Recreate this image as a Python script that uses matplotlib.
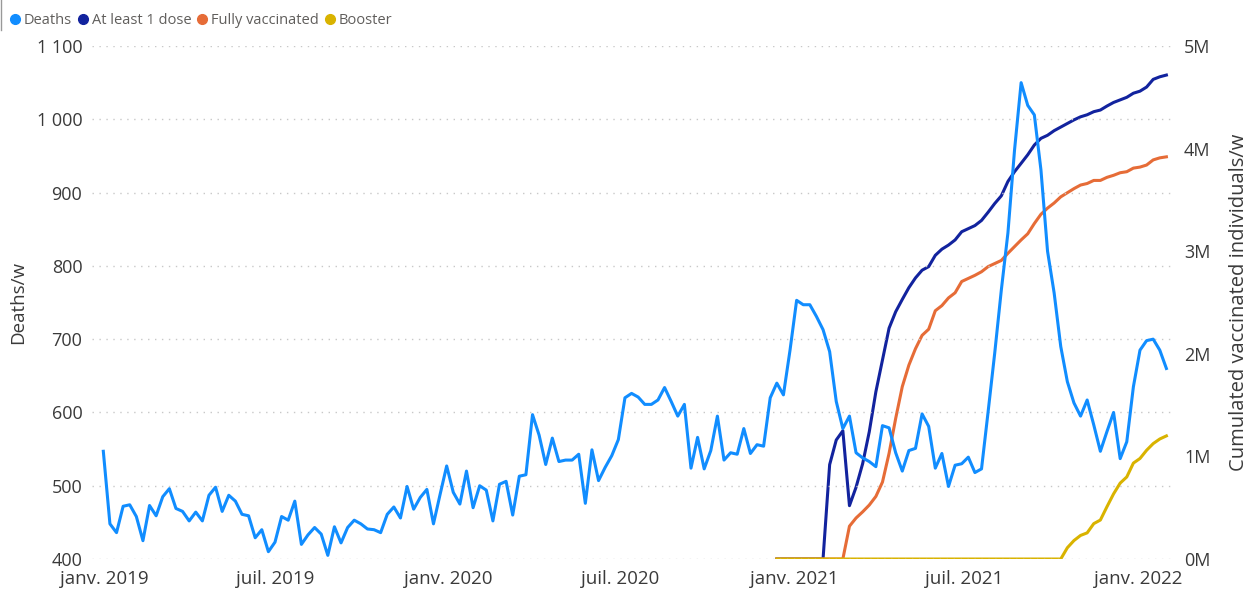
import pandas as pd
import matplotlib
matplotlib.use('Agg')
import matplotlib.pyplot as plt
import matplotlib.ticker as mticker
from matplotlib.lines import Line2D

plt.rcParams['font.family'] = ['Open Sans', 'DejaVu Sans']

# weekly data, first week starting 31 Dec 2018
weeks = pd.date_range('2018-12-31', periods=162, freq='7D')

deaths = [
    547, 448, 436, 472, 474, 458, 425, 473, 459, 485,
    496, 469, 465, 452, 464, 452, 487, 498, 465, 487,
    479, 461, 459, 429, 440, 410, 423, 458, 453, 479,
    420, 433, 443, 434, 405, 444, 422, 443, 453, 448,
    441, 440, 436, 461, 471, 456, 499, 468, 484, 495,
    448, 488, 527, 491, 475, 520, 470, 500, 494, 452,
    502, 506, 460, 513, 515, 597, 569, 529, 565, 533,
    535, 535, 543, 476, 549, 507, 525, 541, 563, 620,
    626, 621, 611, 611, 617, 634, 615, 595, 611, 524,
    566, 523, 548, 595, 535, 545, 543, 578, 544, 556,
    554, 620, 640, 624, 685, 753, 747, 747, 731, 713,
    683, 615, 578, 595, 545, 538, 533, 526, 582, 579,
    545, 520, 548, 551, 598, 581, 524, 544, 499, 528,
    530, 539, 518, 523, 601, 681, 767, 845, 958, 1050,
    1019, 1006, 931, 820, 763, 690, 642, 613, 595, 617,
    583, 547, 574, 600, 537, 560, 635, 685, 698, 700,
    685, 660,
]

# vaccination series (millions), from week 102 on
vax_weeks = weeks[102:]
at_least_1_dose = [0.0] * 8 + [
    0.92, 1.16, 1.25, 0.52, 0.70, 0.93, 1.24, 1.63, 1.94, 2.25,
    2.41, 2.53, 2.645, 2.74, 2.815, 2.85, 2.96, 3.02, 3.06, 3.11,
    3.19, 3.22, 3.25, 3.30, 3.38, 3.465, 3.54, 3.68, 3.775, 3.857,
    3.94, 4.035, 4.10, 4.13, 4.175, 4.21, 4.245, 4.28, 4.31, 4.33,
    4.36, 4.376, 4.415, 4.45, 4.475, 4.50, 4.54, 4.56, 4.60, 4.675,
    4.70, 4.717,
]
fully_vaccinated = [0.0] * 11 + [
    0.32, 0.40, 0.46, 0.526, 0.61, 0.75, 1.03, 1.37, 1.68, 1.89,
    2.05, 2.18, 2.24, 2.42, 2.47, 2.545, 2.595, 2.705, 2.735, 2.765,
    2.80, 2.85, 2.88, 2.91, 2.98, 3.045, 3.11, 3.17, 3.27, 3.36,
    3.42, 3.47, 3.53, 3.57, 3.61, 3.645, 3.66, 3.69, 3.69, 3.72,
    3.74, 3.765, 3.775, 3.81, 3.82, 3.84, 3.89, 3.91, 3.92,
]
booster = [0.0] * 44 + [
    0.11, 0.18, 0.23, 0.255, 0.345, 0.38, 0.51, 0.635, 0.74, 0.80,
    0.935, 0.98, 1.06, 1.125, 1.17, 1.20,
]

tick_dates = pd.to_datetime(['2019-01-01', '2019-07-01', '2020-01-01', '2020-07-01',
                             '2021-01-01', '2021-07-01', '2022-01-01'])
tick_labels = ['janv. 2019', 'juil. 2019', 'janv. 2020', 'juil. 2020',
               'janv. 2021', 'juil. 2021', 'janv. 2022']

c_deaths = '#118DFF'
c_dose1 = '#12239E'
c_full = '#E66C37'
c_boost = '#D9B300'
txt = '#3a3a3a'

fig = plt.figure(figsize=(12.5, 5.9), dpi=100)
ax = fig.add_axes([0.0736, 0.0525, 0.8648, 0.8695])
ax2 = ax.twinx()

ax2.plot(vax_weeks, at_least_1_dose, color=c_dose1, lw=2.2)
ax2.plot(vax_weeks, fully_vaccinated, color=c_full, lw=2.2)
ax2.plot(vax_weeks, booster, color=c_boost, lw=2.2)
ax.plot(weeks, deaths, color=c_deaths, lw=2.2)

ax.set_zorder(ax2.get_zorder() + 1)
ax.patch.set_visible(False)

ax.set_xlim(pd.Timestamp('2018-12-19'), pd.Timestamp('2022-02-07'))
ax.set_ylim(400, 1100)
ax2.set_ylim(0, 5)

ax.yaxis.set_major_locator(mticker.MultipleLocator(100))
ax.yaxis.set_major_formatter(mticker.FuncFormatter(
    lambda v, p: f'{int(v):,}'.replace(',', ' ')))
ax2.yaxis.set_major_locator(mticker.MultipleLocator(1))
ax2.yaxis.set_major_formatter(mticker.FuncFormatter(lambda v, p: f'{int(v)}M'))

ax.set_xticks(tick_dates)
ax.set_xticklabels(tick_labels)

ax.grid(axis='y', color='#c8c8c8', linestyle=(0, (1, 4)), lw=1)
for a in (ax, ax2):
    for s in a.spines.values():
        s.set_visible(False)
    a.tick_params(length=0, labelsize=13, colors=txt)
ax.tick_params(axis='y', pad=7)
ax2.tick_params(axis='y', pad=8)
ax.tick_params(axis='x', pad=8, labelsize=13.5)

ax.set_ylabel('Deaths/w', fontsize=13.5, color=txt)
ax2.set_ylabel('Cumulated vaccinated individuals/w', fontsize=14.5, color=txt)
ax.yaxis.set_label_coords(-0.060, 0.5)
ax2.yaxis.set_label_coords(1.052, 0.5)

handles = [Line2D([], [], marker='o', ls='none', color=c, markersize=7)
           for c in (c_deaths, c_dose1, c_full, c_boost)]
fig.legend(handles, ['Deaths', 'At least 1 dose', 'Fully vaccinated', 'Booster'],
           loc='upper left', bbox_to_anchor=(0.0, 0.995), ncol=4, frameon=False,
           fontsize=10.5, handlelength=0.7, handletextpad=0.25, columnspacing=0.4,
           borderaxespad=0.3, labelcolor='#605E5C')

# thin frame edge at the top-left corner
fig.add_artist(Line2D([0.001, 0.001], [0.95, 1.0], color='#999999', lw=1))

fig.savefig('out.png', dpi=100)
